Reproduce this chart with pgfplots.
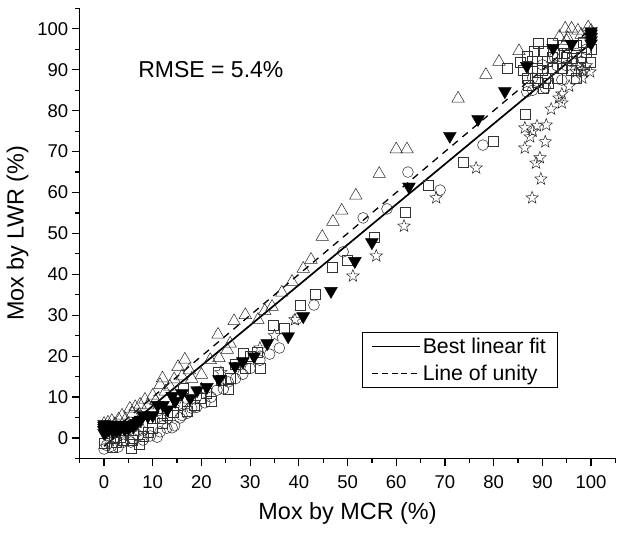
\documentclass[border=0pt]{standalone}
\usepackage{fontspec}
\setmainfont{Liberation Sans}
\usepackage{pgfplots}
\pgfplotsset{compat=1.18}
\pgfdeclareplotmark{ostar}{%
  \pgfpathmoveto{\pgfpointpolar{90}{\pgfplotmarksize}}%
  \pgfpathlineto{\pgfpointpolar{126}{0.42\pgfplotmarksize}}%
  \pgfpathlineto{\pgfpointpolar{162}{\pgfplotmarksize}}%
  \pgfpathlineto{\pgfpointpolar{198}{0.42\pgfplotmarksize}}%
  \pgfpathlineto{\pgfpointpolar{234}{\pgfplotmarksize}}%
  \pgfpathlineto{\pgfpointpolar{270}{0.42\pgfplotmarksize}}%
  \pgfpathlineto{\pgfpointpolar{306}{\pgfplotmarksize}}%
  \pgfpathlineto{\pgfpointpolar{342}{0.42\pgfplotmarksize}}%
  \pgfpathlineto{\pgfpointpolar{18}{\pgfplotmarksize}}%
  \pgfpathlineto{\pgfpointpolar{54}{0.42\pgfplotmarksize}}%
  \pgfpathclose\pgfusepathqstroke}
\begin{document}
\begin{tikzpicture}
\path[use as bounding box] (-79.7pt,-75.55pt) rectangle (544.3pt,458.45pt);
\begin{axis}[
  at={(0pt,0pt)}, anchor=south west,
  scale only axis, width=535.7pt, height=450pt,
  xmin=-5, xmax=105, ymin=-5, ymax=105,
  axis x line*=bottom, axis y line*=left,
  axis line style={line width=1.5pt},
  xtick={0,10,...,100}, ytick={0,10,...,100},
  minor xtick={-5,5,...,105}, minor ytick={-5,5,...,105},
  tick align=outside,
  major tick length=8pt, minor tick length=4.5pt,
  tick style={black, line width=1.2pt},
  /pgf/number format/assume math mode=true,
  ticklabel style={font=\fontsize{18.5}{20}\selectfont},
  xticklabel style={yshift=-6pt},
  xlabel={Mox by MCR (\%)}, ylabel={Mox by LWR (\%)},
  label style={font=\fontsize{23.4}{25}\selectfont},
  xlabel style={at={(axis description cs:0.5,0)}, anchor=center, yshift=-55pt},
  ylabel style={at={(axis description cs:0,0.5)}, anchor=center, yshift=62pt},
  clip=false,
  legend style={at={(axis cs:52.9,25.9)}, anchor=north west, draw=black, line width=0.8pt,
    font=\fontsize{21.3}{24}\selectfont, inner xsep=9.5pt, inner ysep=3.5pt, row sep=6pt,
    /tikz/column 2/.style={column sep=7.5pt}},
  legend cell align=left,
  legend image code/.code={\draw[#1] (0,0) -- (48pt,0);},
]
% stars
\addplot[forget plot, only marks, mark=ostar, mark size=6.5pt, mark options={draw=black!85, line width=0.5pt}] coordinates {
(39.2,28.9)(51.1,39.6)(55.9,44.5)(61.6,51.8)(68.2,58.7)(76.4,66)
(87.9,58.7)(89.7,63.3)(88.7,67.2)(89.5,68.5)(86.4,70.9)(90.6,72.4)(87.5,73.6)(86.4,75.8)(88.9,76.3)(90.8,76.5)(88,75)
(91.8,80.4)(94,81.9)(93.4,83.1)(94,84.1)(95.5,86)(98.2,88)(98.2,90)(99.8,89.5)(99,91)(97.3,91)(98.5,89.5)(97,89.5)
(1,-0.5)(4,0.5)(8,2)(12,5)(16,8)(20,12)(24,16)(28,18)(32,22)(35,25)
};
% circles
\addplot[forget plot, only marks, mark=o, mark size=5.4pt, mark options={draw=black!85, line width=0.5pt}] coordinates {
(0,-2.7)(0.5,-1.8)(1.5,-2)(2.9,-2.2)(4,-1)(5.5,-1)(6,-0.2)(7,0.5)(8,-0.5)(9.5,0.5)(10.9,0.2)(11.5,1.5)(12.9,2.4)(14,2.5)(14.5,3)(15.6,4.9)(16,5.5)(17,6)(18,7.3)(19,7.5)(20.7,8.6)(22,10)(23.2,11.7)(24.5,12)(25.5,13.7)(27,14.5)(28.5,15.6)(30,17)(32,19)(34,20.5)(36,22)(39.6,29.1)(43.1,32.5)
(49.1,45.5)(53.2,53.8)(58.1,56)(62.4,65)(69,60.6)(77.8,71.6)
(86.8,84.6)(90.6,85.6)(94,87.5)(90,91.2)(92.5,93)(95,91)(97,94)(99,95)(88,88)(91,88)(93,91)(96,92)(88,85)(98,92)
};
% open triangles
\addplot[forget plot, only marks, mark=triangle, mark size=7.2pt, mark options={draw=black!85, line width=0.5pt, yshift=-1.75pt}] coordinates {
(0,3.9)(0.4,3)(0.8,4.2)(1.6,4.6)(2.2,3.8)(3,5)(3.7,5.9)(4.4,5)(5.3,7.6)(5.8,6.4)(6.4,8)(7.4,8.6)(8.4,9.8)(9,8.4)(10,10.8)(10.6,9.5)(11.5,13.4)(12,15)(12.6,11.8)(13.5,13)(14.4,14.8)(15.2,17.8)(16,15.5)(16.6,19.6)(18,14.9)(20,15.9)(17.5,17)(21.8,19.5)(23.6,20)(25.3,22)(25.9,23.5)(23.4,25.7)(26.7,29)(29,30.5)
(31.6,29.3)(33,31.5)(34.5,32.5)(36.5,36)(38.6,38.6)(40.9,41.8)(42.5,44)(44.8,49.6)(47,53.3)(48.8,56)(51.7,59.7)(56.5,65)(60,71)(62.2,71)
(72.7,83.4)(78.4,89.2)(81.1,92.4)(85.2,95)
(93.5,98.5)(94.7,100.5)(95.2,98.2)(96,100.5)(97.3,100)(99.4,100.8)(95,97.5)(98,99)(100,100)
};
% squares
\addplot[forget plot, only marks, mark=square, mark size=5pt, mark options={draw=black!80, line width=0.5pt}] coordinates {
(0,-1.2)(1.6,-2.2)(2,0)(2.5,-1)(3.3,0.2)(4,-0.5)(5.5,-2.4)(5.8,-0.5)(6,1)(7.2,-1.5)(8,0.5)(9,1.5)(10,2.5)(11.5,4.9)(12,3.5)(13,5.5)(14.2,6.4)(15,8)(16.2,12.2)(17,6.5)(18.5,8)(19.7,9.8)(21,11)(22,9)(23.4,16.1)(24,14)(25.5,12)(26,14.5)(27,18)(28.5,20.8)(29,17)(30,20)(31.4,21)(32,17)
(34.7,27.6)(37,26.9)(40.2,32.5)(43.3,35.2)(46.8,41.8)(49.9,43.5)(55.4,49.1)(61.8,55.3)(66.6,61.8)
(73.7,67.5)(80,72.6)(86.4,79.2)(82.7,90.5)
(85.4,91.8)(86.8,93.2)(88.3,94.5)(90.2,94.5)(92,96.5)(89.1,96.5)(94.3,96)(88.9,90.4)(88.5,88)(91.2,86.7)(94,90.4)(92.2,90.4)(96.1,92.9)(99.1,94.4)(99.8,91.9)(98.4,96.8)(90.2,85.6)(87.1,86.3)(90,90)(93,94)(97,96)
(88,92)(91,92)(93,88)(95,93)(96,90)(97,88)(98,93)(100,95)(92,93)(89,87)(87,88)(94.5,94)(90.5,88)(86,90)
};
% filled triangles
\addplot[forget plot, only marks, mark=triangle*, mark size=7.4pt, mark options={draw=black, fill=black, yshift=1.75pt, rotate=180}] coordinates {
(0,0.8)(0,1.5)(0,2)(0,2.5)(0,3)(0.3,1)(0.5,2.2)(0.8,2.8)(1,1.6)(1.2,2.4)(1.5,2)(1.8,1.2)(2,2.8)(2.3,2)(2.6,1.5)(3,2.4)(3.3,1.8)(3.6,2.8)(4,2.2)(4.3,1.8)(4.6,2.6)(5,2)(5.3,2.4)(5.6,2.8)(6,2.4)(6.3,3)(6.6,3.2)(7,3.7)(7.5,4)
(8,5.1)(9,4.9)(10,5.1)(11,7.6)(12.1,7.6)(13,6.5)(14,9.8)(14.6,8.6)(16,10.5)(17.7,9.3)(19.1,11.2)(21.1,12)(23.6,13.9)(26.9,17.1)(28.5,18.3)(30.8,19.5)(33.5,22.7)(37.8,24.4)(40.9,29.3)(46.6,35.5)(51.5,42.8)(55,47.4)(62.6,61)(71,73.4)(76.8,77.5)(82.3,84.3)(86.8,90.5)(92.2,94.9)(96,95.9)
(100,96)(100,96.8)(100,97.6)(100,98.4)(100,99)
};
% lines
\addplot[forget plot, black, line width=1.7pt] coordinates {(0,-2) (100,96.5)};
\addplot[forget plot, black, line width=1.3pt, dash pattern=on 7pt off 6pt] coordinates {(0,0) (100,100)};
\addlegendimage{black, line width=1.2pt}
\addlegendentry{Best linear fit}
\addlegendimage{black, line width=0.9pt, dash pattern=on 6pt off 3.7pt}
\addlegendentry{Line of unity}
\node[anchor=west, inner sep=0pt, font=\fontsize{23}{24}\selectfont] at (axis cs:7,90) {RMSE = 5.4\%};
\end{axis}
\end{tikzpicture}
\end{document}
